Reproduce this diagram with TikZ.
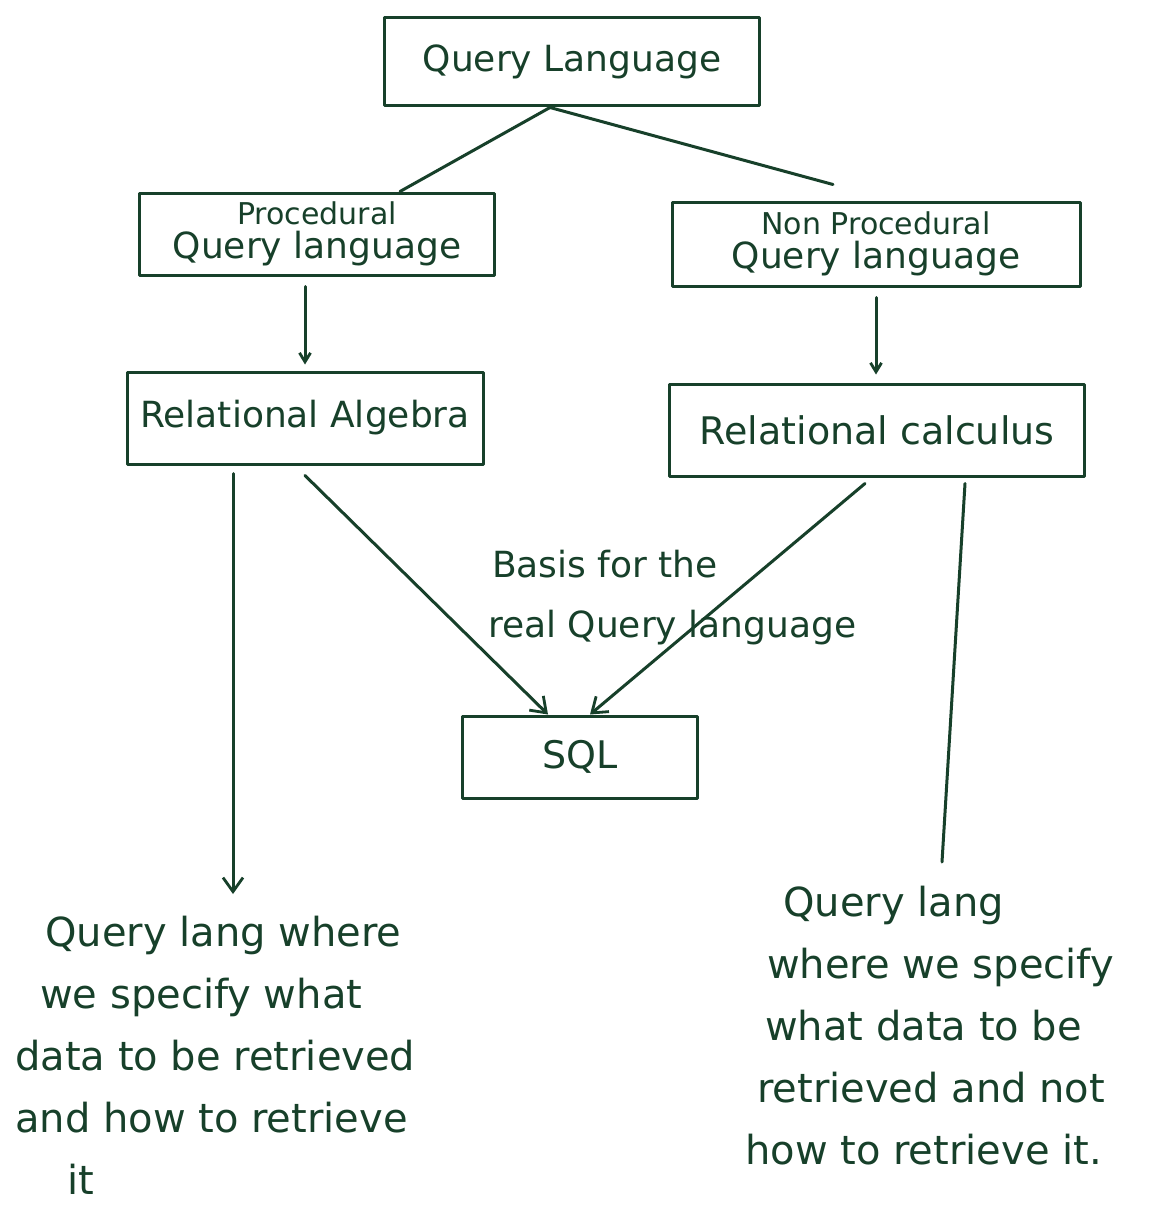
\documentclass[tikz,border=0pt]{standalone}
\usepackage{fontspec}
\setmainfont{DejaVu Sans}
\usetikzlibrary{arrows.meta}
\definecolor{ink}{HTML}{17402A}
\begin{document}
\begin{tikzpicture}[x=1pt,y=-1pt,
  ink/.style={draw=ink,line width=3pt,line cap=round,line join=round},
  box/.style={ink,rectangle,inner sep=0pt,text=ink,font=\fontsize{36}{40}\selectfont},
  arr/.style={ink,-{Straight Barb[length=14pt,width=20pt,line width=2.8pt]}},
  small/.style={-{Straight Barb[length=9pt,width=11pt,line width=2.8pt]}},
  note/.style={text=ink,font=\fontsize{40}{62}\selectfont,align=left,anchor=north west,inner sep=0pt}]
\useasboundingbox[fill=white] (0,0) rectangle (1149,1212);

% boxes
\node[box,minimum width=375pt,minimum height=88pt] (ql) at (572,62) {Query Language};
\node[box,minimum width=355pt,minimum height=82pt,align=center] (proc) at (317,234)
  {{\fontsize{30}{32}\selectfont Procedural}\\[-6pt]Query language};
\node[box,minimum width=408pt,minimum height=84pt,align=center] (nonproc) at (876,244)
  {{\fontsize{30}{32}\selectfont Non Procedural}\\[-6pt]Query language};
\node[box,minimum width=356pt,minimum height=92pt] (ra) at (305,418) {Relational Algebra};
\node[box,minimum width=415pt,minimum height=92pt,font=\fontsize{38}{40}\selectfont] (rc) at (877,430) {Relational calculus};
\node[box,minimum width=235pt,minimum height=82pt,font=\fontsize{38}{40}\selectfont] (sql) at (580,757) {SQL};

% annotation on the arrows into SQL
\node[note,font=\fontsize{36}{60}\selectfont] (basis) at (488,550)
  {\hspace*{4pt}Basis for the\\real Query language};

% descriptions at the bottom
\node[note] (lefttext) at (15,916)
  {\hspace*{30pt}Query lang where\\\hspace*{25pt}we specify what\\data to be retrieved\\and how to retrieve\\\hspace*{52pt}it};
\node[note] (righttext) at (745,886)
  {\hspace*{38pt}Query lang\\\hspace*{22pt}where we specify\\\hspace*{20pt}what data to be\\\hspace*{12pt}retrieved and not\\how to retrieve it.};

% free ends of the long vertical connectors
\coordinate (lt) at (233,894);
\coordinate (rt) at (942,862);

% connectors
\draw[ink] ([xshift=-22pt]ql.south) -- ([xshift=83pt]proc.north);
\draw[ink] ([xshift=-22pt]ql.south) -- ([xshift=-43pt,yshift=16pt]nonproc.north);
\draw[arr,small] (ra.north |- proc.south) ++(0,10) -- ([yshift=6pt]ra.north);
\draw[arr,small] ([yshift=-10pt]nonproc.south) -- ([yshift=8pt]nonproc.south |- rc.north);
\draw[arr] (lt |- ra.south) ++(0,8) -- (lt);
\draw[arr] ([yshift=-10pt]ra.south) -- ([xshift=-32pt]sql.north);
\draw[arr] ([xshift=-12pt,yshift=-6pt]rc.south) -- ([xshift=10pt]sql.north);
\draw[ink] (rt |- rc.south) ++(23,6) -- (rt);
\end{tikzpicture}
\end{document}
